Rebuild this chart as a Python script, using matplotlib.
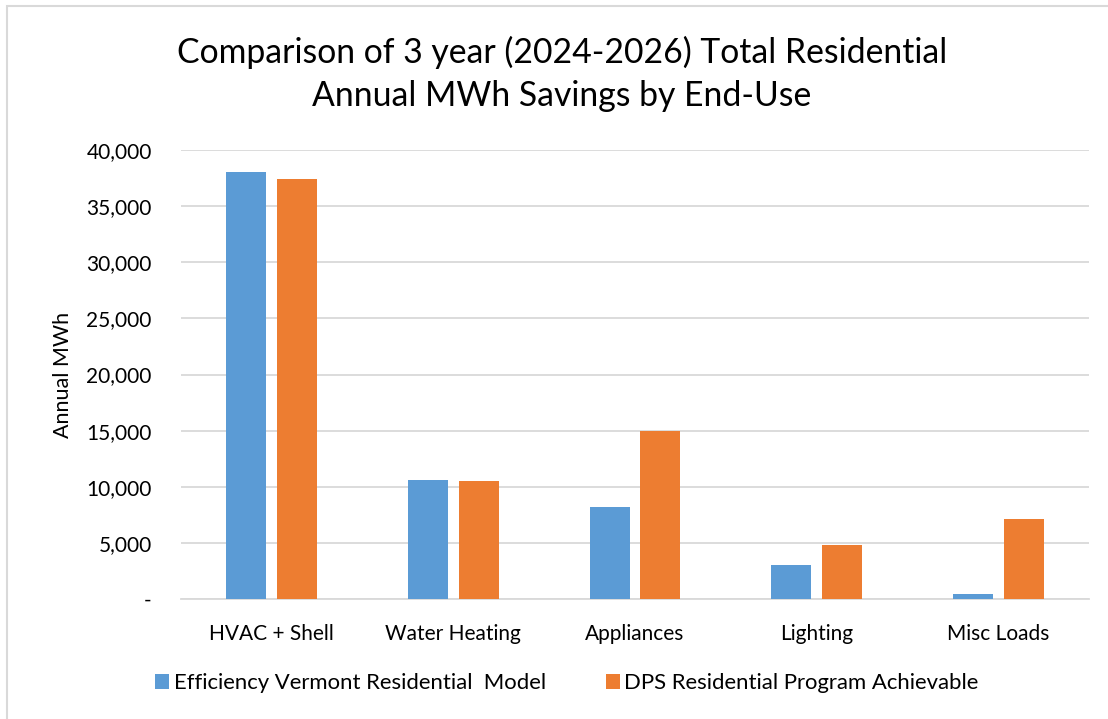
import matplotlib.pyplot as plt
import matplotlib.patches as mpatches
from matplotlib.ticker import FuncFormatter
import numpy as np

plt.rcParams['font.family'] = ['Lato', 'DejaVu Sans']

categories = ["HVAC + Shell", "Water Heating", "Appliances", "Lighting", "Misc Loads"]
evt_model = [38000, 10600, 8200, 3000, 450]
dps_achievable = [37400, 10500, 15000, 4800, 7150]
series_names = ["Efficiency Vermont Residential  Model", "DPS Residential Program Achievable"]
title = "Comparison of 3 year (2024-2026) Total Residential\nAnnual MWh Savings by End-Use"

blue = "#5b9bd5"
orange = "#ed7d31"

fig = plt.figure(figsize=(11.08, 7.19), dpi=100)
# outer chart border
fig.patches.append(mpatches.Rectangle((7 / 1108, -0.1), 1.2, 1 - 6 / 719 + 0.1,
                                      transform=fig.transFigure, fill=False,
                                      edgecolor="#d9d9d9", linewidth=1.5))

ax = fig.add_axes([181 / 1108, 1 - 599 / 719, 908 / 1108, 449 / 719])

x = np.arange(len(categories))
w = 0.22
gap = 0.06
ax.bar(x - (w + gap) / 2, evt_model, w, color=blue, label=series_names[0], zorder=3)
ax.bar(x + (w + gap) / 2, dps_achievable, w, color=orange, label=series_names[1], zorder=3)

ax.set_xlim(-0.5, len(categories) - 0.5)
ax.set_ylim(0, 40000)
ax.set_yticks(np.arange(0, 40001, 5000))
ax.yaxis.set_major_formatter(FuncFormatter(lambda v, p: "-" if v == 0 else f"{int(v):,}"))
ax.grid(axis="y", color="#d9d9d9", linewidth=1.3, zorder=0)
ax.set_xticks(x)
ax.set_xticklabels(categories)
ax.tick_params(axis="both", length=0, labelsize=15, colors="black")
ax.tick_params(axis="x", pad=18)
ax.tick_params(axis="y", pad=21)
for s in ["top", "right", "left"]:
    ax.spines[s].set_visible(False)
ax.spines["bottom"].set_color("#d9d9d9")
ax.spines["bottom"].set_linewidth(1.3)

ax.set_ylabel("Annual MWh", fontsize=15.5, labelpad=10)
fig.text(0.507, 1 - 74 / 719, title, ha="center", va="center", fontsize=24.3, linespacing=1.45)

fig.legend(loc="center", bbox_to_anchor=(0.5117, 1 - 683 / 719), ncol=2, frameon=False,
           fontsize=15.9, handlelength=0.65, handleheight=0.65, handletextpad=0.2,
           columnspacing=2.7)

fig.savefig("out.png", dpi=100)
